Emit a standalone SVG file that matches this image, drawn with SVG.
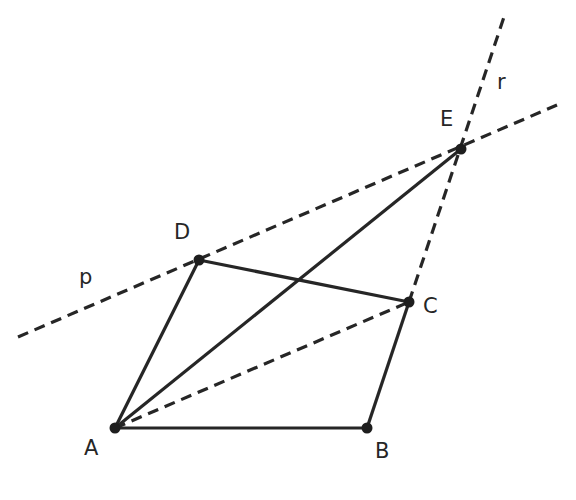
<svg xmlns="http://www.w3.org/2000/svg" width="576" height="500" viewBox="0 0 576 500">
<style>
.s{stroke:#262626;stroke-width:3.2;fill:none;stroke-linecap:butt}
.d{stroke-dasharray:11 7}
.pt{fill:#1e1e1e}
text{font-family:"DejaVu Sans",sans-serif;font-size:21px;fill:#262626}
</style>
<rect width="576" height="500" fill="#fff"/>
<g id="connectors">
<line class="s d" x1="18" y1="337" x2="557" y2="105"/>
<line class="s d" x1="409" y1="302" x2="504" y2="17"/>
<line class="s d" x1="115" y1="428" x2="409" y2="302"/>
<line class="s" x1="115" y1="428" x2="367" y2="428"/>
<line class="s" x1="367" y1="428" x2="409" y2="302"/>
<line class="s" x1="409" y1="302" x2="199" y2="260"/>
<line class="s" x1="199" y1="260" x2="115" y2="428"/>
<line class="s" x1="115" y1="428" x2="461" y2="149"/>
</g>
<g id="A"><circle class="pt" cx="115" cy="428" r="5.5"/><text x="84" y="455">A</text></g>
<g id="B"><circle class="pt" cx="367" cy="428" r="5.5"/><text x="375" y="458">B</text></g>
<g id="C"><circle class="pt" cx="409" cy="302" r="5.5"/><text x="423" y="313">C</text></g>
<g id="D"><circle class="pt" cx="199" cy="260" r="5.5"/><text x="174" y="239">D</text></g>
<g id="E"><circle class="pt" cx="461" cy="149" r="5.5"/><text x="440" y="126">E</text></g>
<g id="p"><text x="79" y="284">p</text></g>
<g id="r"><text x="497" y="89">r</text></g>
</svg>
